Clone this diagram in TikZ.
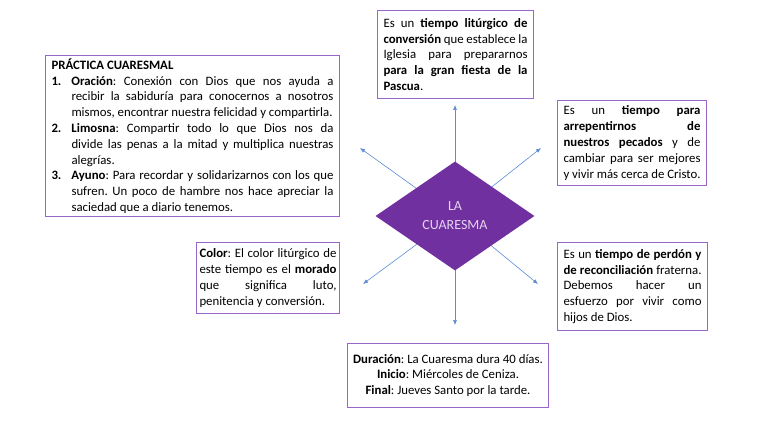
\documentclass[tikz,border=0pt]{standalone}
\usepackage{fontspec}
\setmainfont{Carlito}
\usetikzlibrary{shapes.geometric,arrows.meta}
\definecolor{boxline}{HTML}{9966CC}
\definecolor{dia}{HTML}{7030A0}
\definecolor{diatext}{HTML}{E6D3F2}
\definecolor{arr}{HTML}{5B8BD5}
\newcommand{\myfont}{\fontsize{12.8}{15.8}\selectfont\frenchspacing\hyphenpenalty=10000\exhyphenpenalty=10000\tolerance=10000\emergencystretch=20pt}
\newcommand{\itm}[1]{\hangindent=20pt\hangafter=1\noindent\makebox[20pt][l]{\textbf{#1}}}
\begin{document}
\begin{tikzpicture}[x=1pt,y=-1pt,
  infobox/.style={draw=boxline,line width=1pt,anchor=north west,inner xsep=6pt,inner ysep=0pt,align=justify,font=\myfont},
  ray/.style={draw=arr,line width=0.6pt,-{Latex[length=5pt,width=4pt]}}]
\useasboundingbox (0,0) rectangle (768,433);
% tips
\coordinate (tU) at (455,105);
\coordinate (tD) at (455,325);
\coordinate (tUL) at (360,148);
\coordinate (tUR) at (541,148);
\coordinate (tDL) at (363,284);
\coordinate (tDR) at (538,284);
\coordinate (cc) at (455,216);
\foreach \t in {tU,tD,tUL,tUR,tDL,tDR} \draw[ray] (cc) -- (\t);
\node[diamond,fill=dia,inner sep=0pt,minimum width=159pt,minimum height=109pt,align=center,text=diatext,font=\fontsize{14}{19}\selectfont] (c) at (455,216) {LA\\CUARESMA};
% practica
\node[infobox,text width=282pt,minimum height=161pt] (p) at (45,55) {%
\noindent\textbf{PRÁCTICA CUARESMAL}\par
\itm{1.}\textbf{Oración}: Conexión con Dios que nos ayuda a\linebreak recibir la sabiduría para conocernos a nosotros\linebreak mismos, encontrar nuestra felicidad y compartirla.\par
\itm{2.}\textbf{Limosna}: Compartir todo lo que Dios nos da\linebreak divide las penas a la mitad y multiplica nuestras\linebreak alegrías.\par
\itm{3.}\textbf{Ayuno}: Para recordar y solidarizarnos con los que\linebreak sufren. Un poco de hambre nos hace apreciar la\linebreak saciedad que a diario tenemos.\par};
% top
\node[infobox,text width=144pt,minimum height=88pt,yshift=-1pt] (t) at (377,9) {%
Es un \textbf{tiempo litúrgico de}\linebreak \textbf{conversión} que establece la\linebreak Iglesia para prepararnos\linebreak \textbf{para la gran fiesta de la}\linebreak \textbf{Pascua}.\par};
% right upper
\node[infobox,text width=137pt,minimum height=85pt] (ru) at (557,100) {%
Es un \textbf{tiempo para}\linebreak \textbf{arrepentirnos de}\linebreak \textbf{nuestros pecados} y de\linebreak cambiar para ser mejores\linebreak y vivir más cerca de Cristo.\par};
% right lower
\node[infobox,text width=138pt,minimum height=88pt] (rl) at (557,242) {%
Es un \textbf{tiempo de perdón y}\linebreak \textbf{de reconciliación} fraterna.\linebreak Debemos hacer un\linebreak esfuerzo por vivir como\linebreak hijos de Dios.\par};
% color
\node[infobox,inner xsep=3pt,text width=137pt,minimum height=71pt] (col) at (196,242) {%
\textbf{Color}: El color litúrgico de\linebreak este tiempo es el \textbf{morado}\linebreak que significa luto,\linebreak penitencia y conversión.\par};
% bottom
\node[draw=boxline,line width=1pt,anchor=north west,inner sep=0pt,align=center,font=\myfont,minimum width=201pt,minimum height=64pt] (b) at (347,343) {%
\textbf{Duración}: La Cuaresma dura 40 días.\\
\textbf{Inicio}: Miércoles de Ceniza.\\
\textbf{Final}: Jueves Santo por la tarde.};
\end{tikzpicture}
\end{document}
